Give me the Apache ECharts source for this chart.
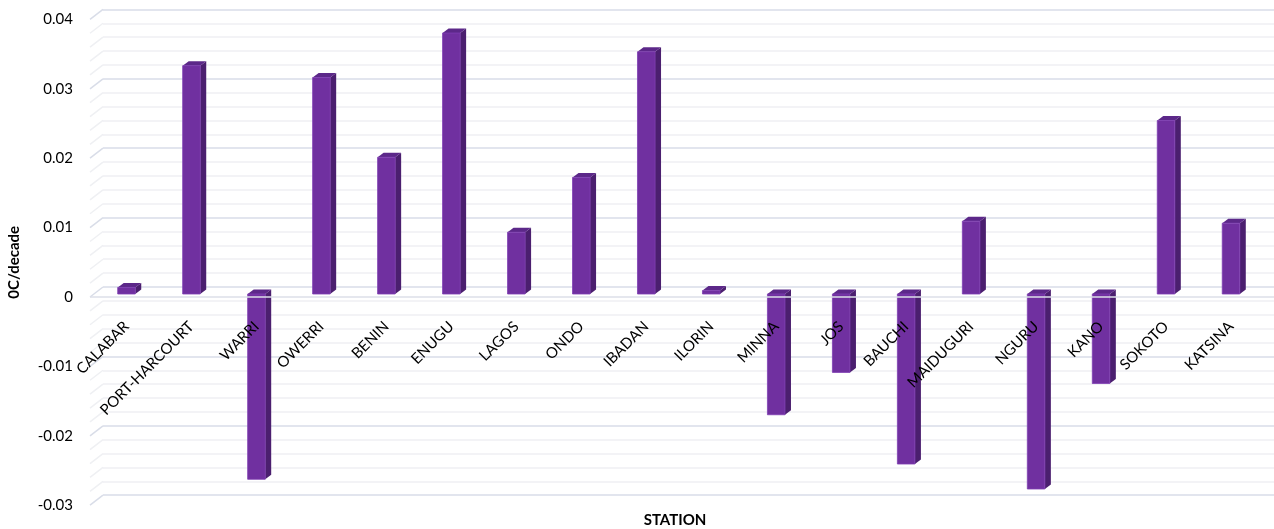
<!DOCTYPE html>
<html>
<head>
<meta charset="utf-8">
<script src="https://cdn.jsdelivr.net/npm/echarts@6/dist/echarts.min.js"></script>
<style>
html,body{margin:0;padding:0;background:#fff;}
#chart{width:1274px;height:529px;}
</style>
</head>
<body>
<div id="chart"></div>
<script>
const categories = ['CALABAR','PORT-HARCOURT','WARRI','OWERRI','BENIN','ENUGU','LAGOS','ONDO','IBADAN','ILORIN','MINNA','JOS','BAUCHI','MAIDUGURI','NGURU','KANO','SOKOTO','KATSINA'];
const trendValues = [0.00095,0.0329,-0.0267,0.0312,0.0197,0.0376,0.0089,0.0168,0.0349,0.0005,-0.0174,-0.0113,-0.0245,0.0105,-0.0281,-0.0129,0.025,0.0102];
const yTicks = [-0.03,-0.02,-0.01,0,0.01,0.02,0.03,0.04];
const yMin = -0.03, yMax = 0.04, yStep = 0.01;

const FONT = 'Lato';
const chart = echarts.init(document.getElementById('chart'), null, {renderer:'canvas'});
const fmt = v => String(Math.round(v*100)/100);
const G = {outerBoundsMode:'none', containLabel:false};

const option = {
  backgroundColor:'#fff',
  animation:false,
  grid:[
    Object.assign({left:94, right:10.5, top:16.4, bottom:26.8}, G),   // bars
    Object.assign({left:103, right:0, top:9.4, bottom:33.8}, G),      // back wall
    Object.assign({left:90, right:14, top:19.4, bottom:23.8}, G),     // front labels
    Object.assign({left:94, right:10.5, top:16.4, bottom:235}, G)     // category labels (bottom edge = zero line)
  ],
  xAxis:[
    {gridIndex:0, type:'category', data:categories, show:false},
    {gridIndex:1, type:'value', min:0, max:1, show:false},
    {gridIndex:2, type:'value', min:0, max:1, show:true,
     axisLine:{show:false}, axisTick:{show:false}, axisLabel:{show:false}, splitLine:{show:false},
     name:'STATION', nameLocation:'middle', nameGap:7,
     nameTextStyle:{fontSize:15, fontWeight:'bold', color:'#000', fontFamily:FONT}},
    {gridIndex:3, type:'category', data:categories, z:10, position:'bottom',
     axisLine:{show:false}, axisTick:{show:false}, splitLine:{show:false},
     axisLabel:{interval:0, rotate:45, margin:30, fontSize:15, color:'#000', fontFamily:FONT}}
  ],
  yAxis:[
    {gridIndex:0, type:'value', min:yMin, max:yMax, interval:yStep, show:false},
    {gridIndex:1, type:'value', min:yMin, max:yMax, interval:yStep,
     axisLine:{show:false}, axisTick:{show:false}, axisLabel:{show:false},
     splitLine:{show:true, lineStyle:{color:'#d9dde8', width:1.5}},
     minorTick:{show:false, splitNumber:5},
     minorSplitLine:{show:true, lineStyle:{color:'#eff0f3', width:1.5}}},
    {gridIndex:2, type:'value', min:yMin, max:yMax, interval:yStep,
     axisLine:{show:false}, axisTick:{show:false}, splitLine:{show:false},
     axisLabel:{margin:17, fontSize:15, color:'#000', fontFamily:FONT, formatter:fmt},
     name:'0C/decade', nameLocation:'middle', nameGap:68,
     nameTextStyle:{fontSize:15, fontWeight:'bold', color:'#000', fontFamily:FONT}},
    {gridIndex:3, type:'value', min:0, max:1, show:false}
  ],
  series:[
    { // left diagonal floor stubs of the back-wall gridlines
      type:'custom', xAxisIndex:1, yAxisIndex:1, z:1, silent:true,
      data: yTicks.slice(0,-1).map(v=>[0,v]),
      renderItem(params, api){
        const v = api.value(1);
        const children = [];
        for (let k=0;k<=5;k++){
          if (k===5 && v+yStep < yMax-1e-9) continue;
          const p = api.coord([0, v + k*yStep/5]);
          children.push({type:'line', shape:{x1:p[0]-13, y1:p[1]+10, x2:p[0], y2:p[1]},
            style:{stroke: k%5===0 ? '#d9dde8' : '#eff0f3', lineWidth:1.5}});
        }
        return {type:'group', children};
      }
    },
    { // 3D bars
      type:'custom', xAxisIndex:0, yAxisIndex:0, z:2,
      data: trendValues.map((v,i)=>[i,v]),
      renderItem(params, api){
        const i = api.value(0), v = api.value(1);
        const p0 = api.coord([i,0]), p1 = api.coord([i,v]);
        const w = api.size([1,0])[0]*0.27;
        const x = p0[0]-w/2;
        const top = Math.min(p0[1],p1[1]), bot = Math.max(p0[1],p1[1]);
        const dx = 6, dy = -4.5;
        return {type:'group', children:[
          {type:'polygon', shape:{points:[[x+w,top],[x+w+dx,top+dy],[x+w+dx,bot+dy],[x+w,bot]]},
           style:{fill:'#4b1f6f'}},
          {type:'polygon', shape:{points:[[x,top],[x+dx,top+dy],[x+w+dx,top+dy],[x+w,top]]},
           style:{fill:'#5c2889'}},
          {type:'rect', shape:{x:x, y:top, width:w, height:bot-top},
           style:{fill:'#7030a0', stroke:'#7f3eb3', lineWidth:0.8}}
        ]};
      }
    },
    { // front edge of the floor at zero
      type:'custom', xAxisIndex:1, yAxisIndex:1, z:3, silent:true,
      data:[[0,0]],
      renderItem(params, api){
        const a = api.coord([0,0]), b = api.coord([1,0]);
        return {type:'line', shape:{x1:a[0]-13, y1:a[1]+10, x2:b[0], y2:b[1]+10},
          style:{stroke:'#dcdfe9', lineWidth:1.5}};
      }
    }
  ]
};
chart.setOption(option);
</script>
</body>
</html>
